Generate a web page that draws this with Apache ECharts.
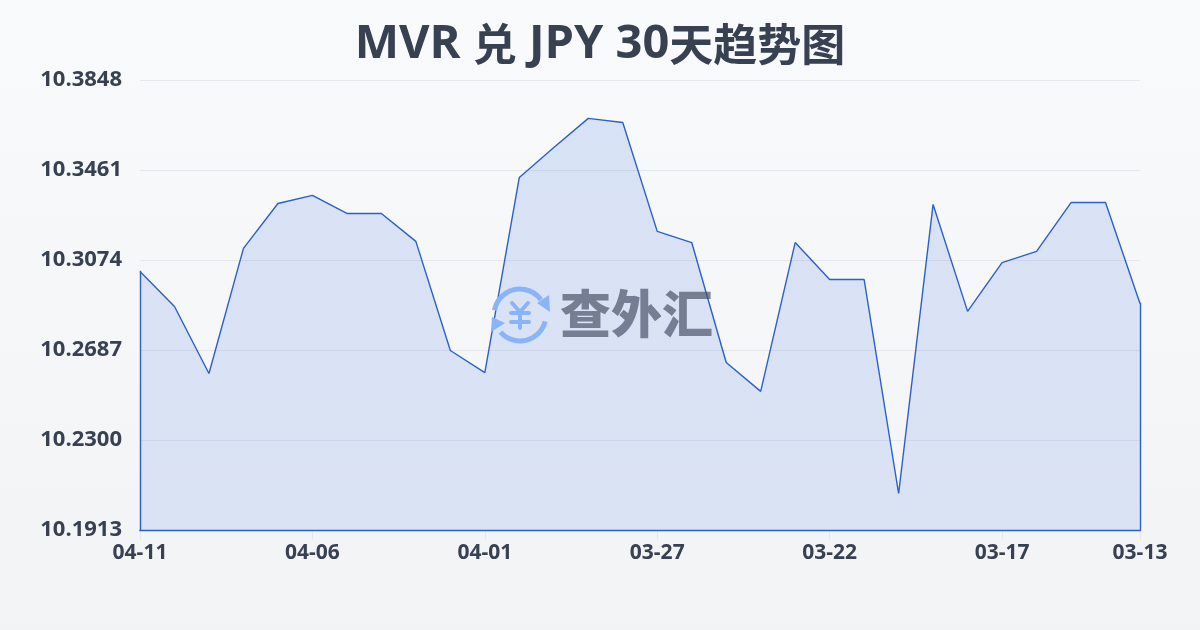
<!DOCTYPE html>
<html><head><meta charset="utf-8">
<style>html,body{margin:0;padding:0;width:1200px;height:630px;overflow:hidden}#c{width:1200px;height:630px}</style>
<script src="https://cdn.jsdelivr.net/npm/echarts@6/dist/echarts.min.js"></script>
</head><body><div id="c"></div>
<script>
const titleParts = ['MVR ','兑',' JPY 30','天趋势图'];
const dates = ['04-11','04-10','04-09','04-08','04-07','04-06','04-05','04-04','04-03','04-02','04-01','03-31','03-30','03-29','03-28','03-27','03-26','03-25','03-24','03-23','03-22','03-21','03-20','03-19','03-18','03-17','03-16','03-15','03-14','03-13'];
const rates = [10.3025,10.2874,10.2586,10.3124,10.3317,10.3352,10.3274,10.3274,10.3154,10.2685,10.2590,10.3429,10.3558,10.3683,10.3665,10.3197,10.3149,10.2633,10.2509,10.3149,10.2990,10.2990,10.2070,10.3313,10.2853,10.3063,10.3111,10.3321,10.3321,10.2887];
const yTicks = [10.1913,10.2300,10.2687,10.3074,10.3461,10.3848];
const xLabelIndex = [0,5,10,15,20,25,29];
const yMin = yTicks[0], yMax = yTicks[yTicks.length-1];
const lineColor = '#2b60c8';
const logoColor = '#8ab4f8';
const fontFam = '"Open Sans","Noto Sans CJK SC",sans-serif';
const latin = {fontFamily:'"Open Sans"',fontSize:47,fontWeight:700,color:'#374151'};
const cjk = {fontFamily:'"Noto Sans CJK SC"',fontSize:44,fontWeight:700,color:'#374151'};
const chart = echarts.init(document.getElementById('c'), null, {renderer:'canvas'});
const logoLine = (pts)=>({type:'polyline',z:50,shape:{points:pts},style:{stroke:logoColor,lineWidth:4,fill:null,lineCap:'round',lineJoin:'round'}});
chart.setOption({
  animation:false,
  backgroundColor:new echarts.graphic.LinearGradient(0,0,0,1,[{offset:0,color:'#f8fafc'},{offset:1,color:'#f1f3f5'}]),
  title:{text:`{a|${titleParts[0]}}{b|${titleParts[1]}}{a|${titleParts[2]}}{b|${titleParts[3]}}`,left:'center',top:16,
    textStyle:{rich:{a:latin,b:cjk}}},
  grid:{left:140,right:60,top:80,bottom:100},
  xAxis:{type:'category',boundaryGap:false,data:dates,
    axisLine:{show:false},
    axisTick:{show:true,customValues:xLabelIndex,length:10,lineStyle:{color:'#e5e7eb'}},
    axisLabel:{customValues:xLabelIndex,margin:13,fontFamily:fontFam,fontSize:21,fontWeight:700,color:'#374151',hideOverlap:false},
    splitLine:{show:false}},
  yAxis:{type:'value',min:yMin,max:yMax,
    axisLine:{show:false},
    axisTick:{show:false,customValues:yTicks},
    axisLabel:{customValues:yTicks,margin:18,fontFamily:fontFam,fontSize:22,fontWeight:700,color:'#374151',formatter:v=>v.toFixed(4)},
    splitLine:{show:true,lineStyle:{color:'#e5e7eb',width:1}}},
  series:[{type:'line',data:rates,symbol:'none',smooth:false,
    lineStyle:{color:lineColor,width:1.4},
    areaStyle:{color:new echarts.graphic.LinearGradient(0,0,0,1,[{offset:0,color:'rgba(59,110,220,0.23)'},{offset:1,color:'rgba(59,110,220,0.19)'}])},
    markLine:{silent:true,symbol:'none',label:{show:false},lineStyle:{color:lineColor,width:1.4,type:'solid',cap:'square'},
      data:[
        [{xAxis:0,yAxis:rates[0]},{xAxis:0,yAxis:yMin}],
        [{xAxis:0,yAxis:yMin},{xAxis:dates.length-1,yAxis:yMin}],
        [{xAxis:dates.length-1,yAxis:rates[rates.length-1]},{xAxis:dates.length-1,yAxis:yMin}]
      ]}
  }],
  graphic:[
    {type:'arc',z:50,shape:{cx:520,cy:315,r:26,startAngle:-2.96,endAngle:-0.63},style:{stroke:logoColor,lineWidth:5,fill:null}},
    {type:'arc',z:50,shape:{cx:520,cy:315,r:26,startAngle:0.25,endAngle:2.42},style:{stroke:logoColor,lineWidth:5,fill:null}},
    {type:'polygon',z:50,shape:{points:[[537,303],[550,312],[549,295]]},style:{fill:logoColor}},
    {type:'polygon',z:50,shape:{points:[[492,317],[505,323],[491,332]]},style:{fill:logoColor}},
    logoLine([[512,303],[520,312],[528,303]]),
    logoLine([[520,312],[520,328]]),
    logoLine([[511,313],[529,313]]),
    logoLine([[511,322],[529,322]]),
    {type:'text',left:560,top:288,z:50,style:{text:'查外汇',font:'900 51px "Noto Sans CJK SC"',fill:'rgba(70,78,100,0.68)'}}
  ]
});
</script></body></html>
